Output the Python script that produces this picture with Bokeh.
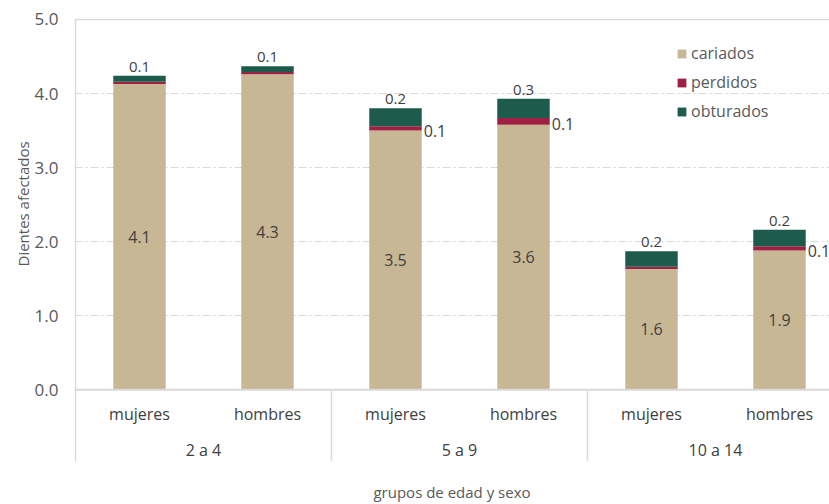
from bokeh.core.properties import value
from bokeh.embed import file_html
from bokeh.models import (ColumnDataSource, FixedTicker, Legend, LegendItem,
                          PrintfTickFormatter, Range1d, Span, Title)
from bokeh.plotting import figure
from bokeh.resources import INLINE

# Dientes afectados por grupo de edad y sexo
grupos = ["2 a 4", "5 a 9", "10 a 14"]
sexos = ["mujeres", "hombres"]
cariados = [4.13, 4.26, 3.50, 3.58, 1.63, 1.88]
perdidos = [0.03, 0.03, 0.06, 0.09, 0.03, 0.06]
obturados = [0.08, 0.08, 0.24, 0.26, 0.21, 0.22]
y_ticks = [0, 1, 2, 3, 4, 5]

series = ["cariados", "perdidos", "obturados"]
colores = ["#C8B795", "#9E2143", "#1D5B4D"]

FONT = "Open Sans"
TXT = "#404040"
GRIS = "#595959"
LINEA = "#D9D9D9"

n = len(grupos) * len(sexos)
xs = [i + 0.5 for i in range(n)]
ancho = 0.41
total = [c + p + o for c, p, o in zip(cariados, perdidos, obturados)]

src = ColumnDataSource(dict(
    x=xs, cariados=cariados, perdidos=perdidos, obturados=obturados,
))

p = figure(width=829, height=504, output_backend="svg", toolbar_location=None,
           x_range=Range1d(-1 / 128, 754 / 128),
           y_range=Range1d(-0.968, 5.0134),
           min_border_left=74, min_border_right=0,
           min_border_top=18, min_border_bottom=41)
p.outline_line_color = None
p.background_fill_color = "white"
p.border_fill_color = "white"

# ejes
p.xgrid.visible = False
p.ygrid.ticker = FixedTicker(ticks=[1, 2, 3, 4])
p.ygrid.grid_line_color = LINEA
p.ygrid.grid_line_width = 1
p.ygrid.grid_line_dash = "8 3 2 3"

p.yaxis.ticker = FixedTicker(ticks=y_ticks)
p.yaxis.formatter = PrintfTickFormatter(format="%.1f")
p.yaxis.axis_line_color = None
p.yaxis.major_tick_line_color = None
p.yaxis.minor_tick_line_color = None
p.yaxis.major_tick_out = 0
p.yaxis.major_tick_in = 0
p.yaxis.major_label_standoff = 16
p.yaxis.major_label_text_font = FONT
p.yaxis.major_label_text_font_size = "17px"
p.yaxis.major_label_text_color = GRIS

p.xaxis.ticker = FixedTicker(ticks=[])
p.xaxis.axis_line_color = None
p.xaxis.major_tick_line_color = None
p.xaxis.minor_tick_line_color = None
p.xaxis.major_tick_out = 0
p.xaxis.axis_label = "grupos de edad y sexo"
p.xaxis.axis_label_standoff = 20
p.xaxis.axis_label_text_font = FONT
p.xaxis.axis_label_text_font_size = "15px"
p.xaxis.axis_label_text_font_style = "normal"
p.xaxis.axis_label_text_color = GRIS

# título del eje vertical, situado sobre el tramo 0–5
p.add_layout(Title(text="Dientes afectados", align="left", offset=195,
                   standoff=-3, text_font=FONT, text_font_size="15px",
                   text_font_style="normal", text_color=GRIS), "left")

# marco: borde superior, borde izquierdo y línea base
p.add_layout(Span(location=5, dimension="width", line_color=LINEA, line_width=1.5))
p.add_layout(Span(location=0, dimension="height", line_color=LINEA, line_width=1.5))
p.add_layout(Span(location=0, dimension="width", line_color=LINEA, line_width=2))

# separadores entre grupos bajo el eje
sep_x = [2 * g for g in range(1, len(grupos) + 1)]
p.segment(x0=sep_x, x1=sep_x, y0=[0] * len(sep_x), y1=[-0.968] * len(sep_x),
          line_color=LINEA, line_width=1.5)

# barras apiladas
rs = p.vbar_stack(series, x="x", width=ancho, color=colores, source=src,
                  line_color=None)

# etiquetas de valores
p.text(x=xs, y=[c / 2 for c in cariados], text=[f"{c:.1f}" for c in cariados],
       text_align="center", text_baseline="middle", text_color=TXT,
       text_font=value(FONT), text_font_size="16px")
p.text(x=xs, y=total, text=[f"{o:.1f}" for o in obturados],
       text_align="center", text_baseline="middle", y_offset=-9,
       text_color=TXT, text_font=value(FONT), text_font_size="15px")
lx, ly, lt = [], [], []
for x, c, pp in zip(xs, cariados, perdidos):
    if round(pp, 1) >= 0.1:
        lx.append(x + ancho / 2)
        ly.append(c + pp / 2)
        lt.append(f"{pp:.1f}")
p.text(x=lx, y=ly, text=lt, text_align="left", text_baseline="middle",
       x_offset=2, y_offset=3, text_color=TXT, text_font=value(FONT),
       text_font_size="16px")

# etiquetas de categorías
sub_lbl = [s for _ in grupos for s in sexos]
p.text(x=xs, y=[-0.33] * n, text=sub_lbl, text_align="center",
       text_baseline="middle", text_color=TXT, text_font=value(FONT),
       text_font_size="16px")
p.text(x=[2 * g + 1 for g in range(len(grupos))], y=[-0.81] * len(grupos),
       text=grupos, text_align="center", text_baseline="middle",
       text_color=TXT, text_font=value(FONT), text_font_size="16px")

# leyenda
legend = Legend(items=[LegendItem(label=s, renderers=[r]) for s, r in zip(series, rs)],
                location=(602, 339), orientation="vertical",
                glyph_width=11, glyph_height=11, label_standoff=4,
                label_height=20, spacing=7, padding=0, margin=0,
                border_line_color=None, background_fill_alpha=0,
                label_text_font=FONT, label_text_font_size="16px",
                label_text_color=GRIS)
p.add_layout(legend)

open("out.html", "w").write(file_html(p, INLINE))
